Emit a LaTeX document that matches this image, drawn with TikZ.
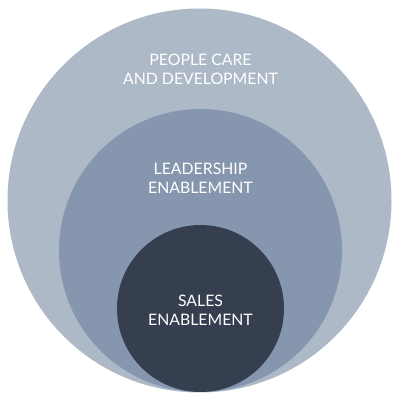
\documentclass[tikz,border=0pt]{standalone}
\usepackage{fontspec}
\setmainfont{Lato}
\definecolor{outerc}{RGB}{174,185,200}
\definecolor{midc}{RGB}{134,150,175}
\definecolor{innerc}{RGB}{53,63,80}
\begin{document}
\begin{tikzpicture}[x=1pt,y=1pt,
  ring/.style={circle,inner sep=0pt,draw=none},
  lbl/.style={text=white,align=center,font=\fontsize{15.8}{19}\selectfont,inner sep=0pt,anchor=base}]
\useasboundingbox (0,0) rectangle (401,400);
\fill[white] (0,0) rectangle (401,400);
\node[ring,fill=outerc,minimum size=384pt] (outer) at (199.5,199.5) {};
\node[ring,fill=midc,minimum size=283pt] (mid) at (200.5,149.5) {};
\node[ring,fill=innerc,minimum size=167pt] (inner) at (200.5,91.5) {};
\node[lbl] (tout) at (200.5,316) {PEOPLE CARE\\AND DEVELOPMENT};
\node[lbl] (tmid) at (200.5,207) {LEADERSHIP\\ENABLEMENT};
\node[lbl] (tin) at (200.5,75) {SALES\\ENABLEMENT};
\end{tikzpicture}
\end{document}
